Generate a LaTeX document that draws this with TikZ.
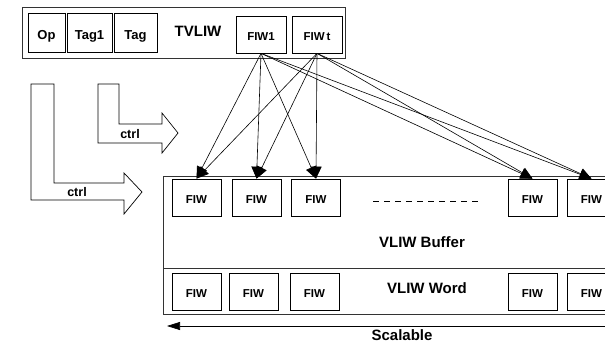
\documentclass[tikz,border=0pt]{standalone}
\usepackage{fontspec}
\setmainfont{Liberation Sans}
\usetikzlibrary{arrows.meta}
\begin{document}
\begin{tikzpicture}[x=1pt,y=-1pt,
  fiwbox/.style={draw, line width=0.7pt, inner sep=0pt, minimum width=49pt, minimum height=37pt,
                 text height=12.5pt, text depth=0pt,
                 font=\fontsize{11.5}{13}\selectfont\bfseries},
  fieldbox/.style={draw, line width=0.7pt, inner sep=0pt, minimum height=39pt,
                   text height=14pt, text depth=0pt,
                   font=\fontsize{13}{15}\selectfont\bfseries},
  frame/.style={draw=black!80, line width=1pt},
  label/.style={inner sep=0pt, font=\fontsize{15}{17}\selectfont\bfseries},
  ctrlarrow/.style={draw, line width=0.7pt, fill=white},
  ctrllabel/.style={inner sep=0pt, font=\fontsize{12.5}{14}\selectfont\bfseries},
  link/.style={line width=0.6pt, -{Triangle[length=12pt,width=11pt]}}
]
\useasboundingbox (0,0) rectangle (605,343);
\clip (0,0) rectangle (605,343);

% TVLIW instruction word
\draw[frame] (22,7) rectangle (345,58);
\node[fieldbox, minimum width=37pt] (op)   at (46.5,32.5) {Op};
\node[fieldbox, minimum width=45pt] (tag1) at (89.5,32.5) {Tag1};
\node[fieldbox, minimum width=43pt] (tag)  at (135.5,32.5) {Tag};
\node[label] (tvliw) at (198,31) {TVLIW};
\node[fiwbox, minimum width=50pt] (fiw1) at (261,34.5) {FIW1};
\node[fiwbox, minimum width=50pt] (fiwt) at (317,34.5) {FIW\,t};

% control arrows
\draw[ctrlarrow] (31,84) -- (54,84) -- (54,183) -- (124,183) -- (124,173) -- (142,192)
  -- (124,214) -- (124,200) -- (31,200) -- cycle;
\node[ctrllabel] (ctrlA) at (77,192) {ctrl};
\draw[ctrlarrow] (98,84) -- (119,84) -- (119,124) -- (162,124) -- (162,113) -- (178,133)
  -- (162,153) -- (162,143) -- (98,143) -- cycle;
\node[ctrllabel] (ctrlB) at (130,134) {ctrl};

% VLIW buffer and VLIW word
\draw[frame] (163,176) rectangle (640,314);
\draw[frame] (163,268) -- (640,268);

\node[fiwbox] (b1) at (196.5,197.5) {FIW};
\node[fiwbox] (b2) at (256.5,197.5) {FIW};
\node[fiwbox] (b3) at (316,197.5)   {FIW};
\node[fiwbox] (b4) at (532.5,197.5) {FIW};
\node[fiwbox] (b5) at (591.5,197.5) {FIW};
\coordinate (dotsL) at (373,201);
\coordinate (dotsR) at (478,201);
\draw[line width=0.8pt, dash pattern=on 6pt off 5pt] (dotsL) -- (dotsR);
\node[label] (buf) at (422,242) {VLIW Buffer};

\node[fiwbox] (w1) at (196.5,291.5) {FIW};
\node[fiwbox] (w2) at (253.5,291.5) {FIW};
\node[fiwbox] (w3) at (314.5,291.5) {FIW};
\node[fiwbox] (w4) at (532.5,291.5) {FIW};
\node[fiwbox] (w5) at (591.5,291.5) {FIW};
\node[label] (word) at (427,288) {VLIW Word};

% routing of the TVLIW fields into the buffer
\foreach \src in {fiw1,fiwt}{
  \foreach \dst in {b1,b2,b3,b4,b5}{
    \draw[link] (\src.south) -- (\dst.north);
  }
}

% scalability
\coordinate (scR) at (620,326);
\coordinate (scL) at (167,326);
\draw[line width=0.7pt, -{Triangle[length=13pt,width=8pt]}] (scR) -- (scL);
\node[label] (scal) at (402,335.5) {Scalable};
\end{tikzpicture}
\end{document}
